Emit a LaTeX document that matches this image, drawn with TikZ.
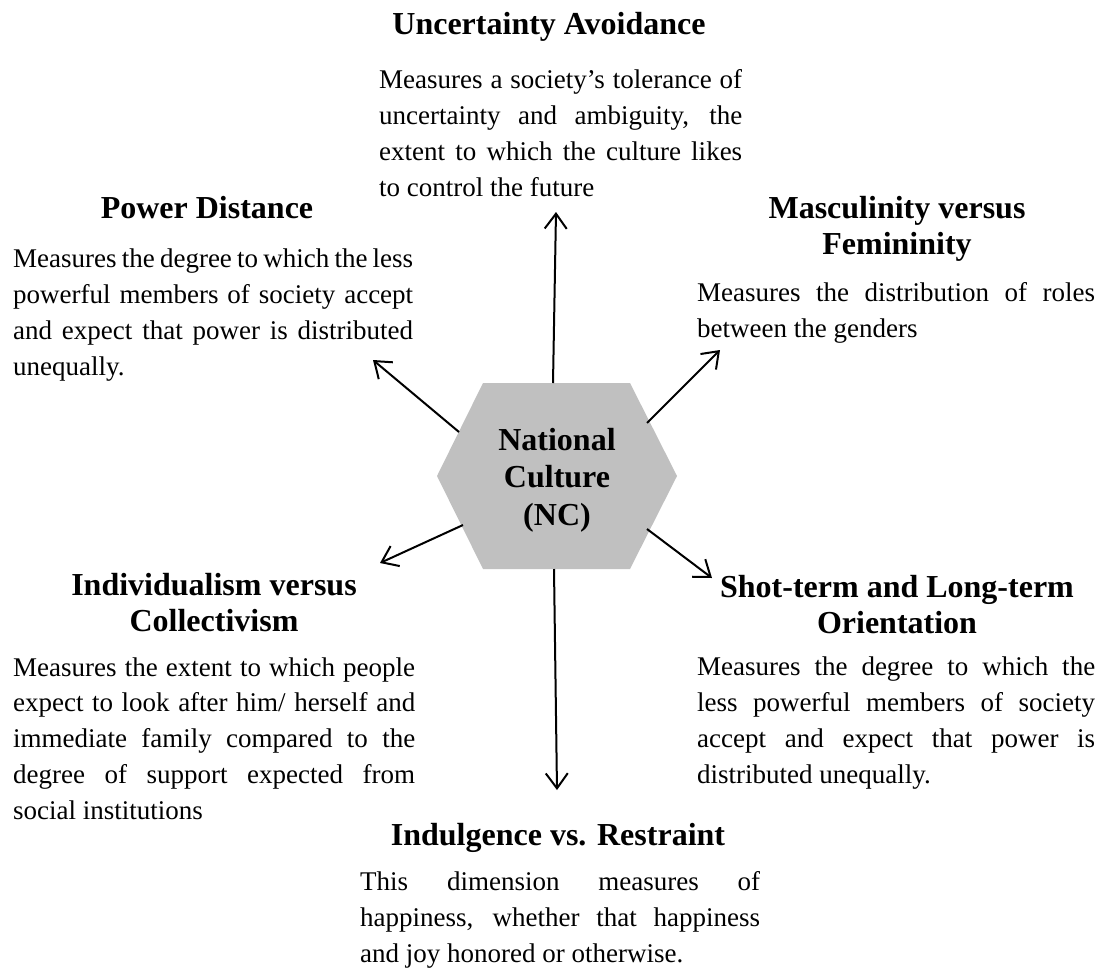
\documentclass[tikz,border=0pt]{standalone}
\usepackage{fontspec}
\setmainfont{Liberation Serif}
\usetikzlibrary{arrows.meta}
\definecolor{hexgray}{RGB}{192,192,192}
\newcommand{\jl}[2]{\makebox[#1][s]{#2}}
\tikzset{
  head/.style={font=\fontsize{32}{36}\selectfont\bfseries, align=center, inner sep=0pt, anchor=base},
  body/.style={font=\fontsize{27}{35.7}\selectfont, align=left, inner sep=0pt, anchor=base west},
  arr/.style={line width=2pt, -{Straight Barb[length=15pt,width=22pt,line width=2pt]}},
}
\begin{document}
\begin{tikzpicture}[x=1pt,y=-1pt]
\useasboundingbox (0,0) rectangle (1108,969);
% hexagon
\fill[hexgray] (437,476) -- (483,383) -- (630,383) -- (677,476) -- (630,569) -- (483,569) -- cycle;
\node[head, font=\fontsize{32}{37.5}\selectfont\bfseries] (nc) at (557,525) {National\\Culture\\(NC)};
% headings (base = last line baseline)
\node[head] (uah) at (549,34) {Uncertainty Avoidance};
\node[head] (pdh) at (207,218) {Power Distance};
\node[head] (mfh) at (897,254) {Masculinity versus\\Femininity};
\node[head] (ich) at (214,631) {Individualism versus\\Collectivism};
\node[head] (slh) at (897,633) {Shot-term and Long-term\\Orientation};
\node[head] (irh) at (558,845) {Indulgence vs. Restraint};
% bodies (base = last line baseline)
\node[body] (uab) at (379,196) {\jl{363pt}{Measures a society’s tolerance of}\\\jl{363pt}{uncertainty and ambiguity, the}\\\jl{363pt}{extent to which the culture likes}\\to control the future};
\node[body] (pdb) at (13,375) {\jl{400pt}{Measures the degree to which the less}\\\jl{400pt}{powerful members of society accept}\\\jl{400pt}{and expect that power is distributed}\\unequally.};
\node[body] (mfb) at (697,337) {\jl{398pt}{Measures the distribution of roles}\\between the genders};
\node[body] (icb) at (13,819) {\jl{402pt}{Measures the extent to which people}\\\jl{402pt}{expect to look after him/ herself and}\\\jl{402pt}{immediate family compared to the}\\\jl{402pt}{degree of support expected from}\\social institutions};
\node[body] (slb) at (697,783) {\jl{398pt}{Measures the degree to which the}\\\jl{398pt}{less powerful members of society}\\\jl{398pt}{accept and expect that power is}\\distributed unequally.};
\node[body] (irb) at (360,962) {\jl{400pt}{This dimension measures of}\\\jl{400pt}{happiness, whether that happiness}\\and joy honored or otherwise.};
% arrow ends
\coordinate (sUA) at (553,383); \coordinate (tUA) at (556,212);
\coordinate (sPD) at (459,432); \coordinate (tPD) at (373,360);
\coordinate (sMF) at (647,423); \coordinate (tMF) at (720,350);
\coordinate (sIC) at (463,525); \coordinate (tIC) at (380,563);
\coordinate (sSL) at (647,529); \coordinate (tSL) at (712,578);
\coordinate (sIR) at (554,569); \coordinate (tIR) at (557,790);
\draw[arr] (sUA) -- (tUA);
\draw[arr] (sPD) -- (tPD);
\draw[arr] (sMF) -- (tMF);
\draw[arr] (sIC) -- (tIC);
\draw[arr] (sSL) -- (tSL);
\draw[arr] (sIR) -- (tIR);
\end{tikzpicture}
\end{document}
